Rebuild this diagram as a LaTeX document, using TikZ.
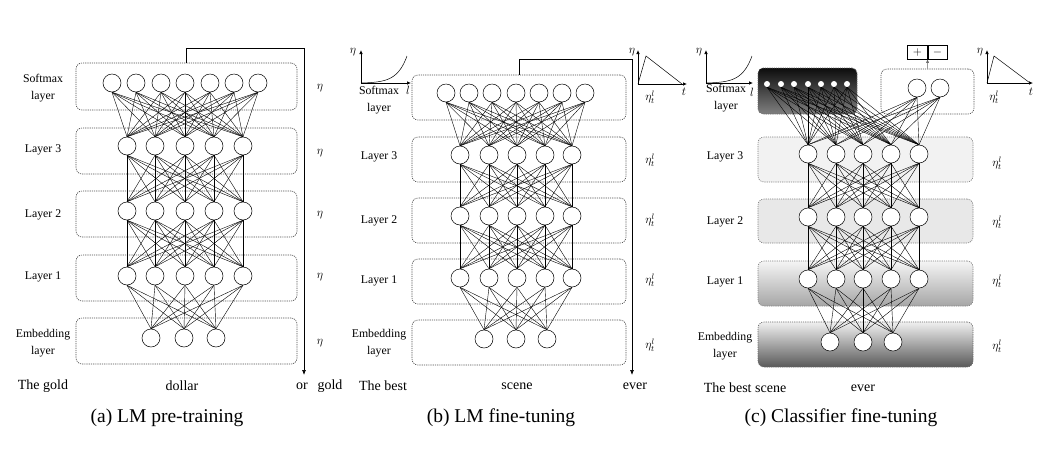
\documentclass[tikz,border=0pt]{standalone}
\usepackage{amsmath}
\usepackage{fontspec}
\setmainfont{Liberation Serif}
\usepackage{tikz}
\usetikzlibrary{arrows.meta, positioning, calc}
\tikzset{
  unit/.style={circle, draw, fill=white, minimum size=18pt, inner sep=0pt, line width=0.5pt},
  dot/.style={circle, fill=white, minimum size=6pt, inner sep=0pt},
  layerbox/.style={rectangle, rounded corners=6pt, draw=black!70, line width=0.6pt,
              dash pattern=on 1.2pt off 1pt, inner sep=0pt},
  link/.style={line width=0.4pt},
  flow/.style={-{Latex[length=5pt,width=4pt]}, line width=0.7pt},
  axisline/.style={-{Latex[length=4pt,width=3.5pt]}, line width=0.7pt},
  lbl/.style={font=\fontsize{11.8}{17}\selectfont, align=center, inner sep=0pt},
  word/.style={font=\fontsize{14}{16}\selectfont, inner sep=0pt},
  capt/.style={font=\fontsize{19.5}{22}\selectfont, inner sep=0pt},
  rate/.style={font=\fontsize{12}{14}\selectfont, inner sep=0pt},
  signbox/.style={rectangle, draw, line width=0.6pt, minimum width=19.5pt, minimum height=14pt,
              inner sep=0pt, font=\fontsize{13}{14}\selectfont},
}

\begin{document}
\begin{tikzpicture}[x=1pt, y=-1pt]
  \useasboundingbox (0,0) rectangle (1042,448);

  % ---------------- (a) LM pre-training ----------------
  \node[layerbox, minimum width=221pt, minimum height=47pt] (a-sbox) at (186.5,86.5) {};
  \node[layerbox, minimum width=221pt, minimum height=46pt] (a-box3) at (186.5,151) {};
  \node[layerbox, minimum width=221pt, minimum height=46pt] (a-box2) at (186.5,214) {};
  \node[layerbox, minimum width=221pt, minimum height=46pt] (a-box1) at (186.5,278) {};
  \node[layerbox, minimum width=221pt, minimum height=46pt] (a-box0) at (186.5,341) {};

  \foreach \i/\x in {1/112,2/136,3/161,4/185,5/210,6/234,7/258}
    \node[unit] (a-s\i) at (\x,83) {};
  \foreach \i/\x in {1/127,2/155,3/185,4/214,5/243} {
    \node[unit] (a-c\i) at (\x,146) {};
    \node[unit] (a-b\i) at (\x,211) {};
    \node[unit] (a-a\i) at (\x,276) {};
  }
  \foreach \i/\x in {1/151,2/184,3/216}
    \node[unit] (a-e\i) at (\x,338) {};

  \foreach \i in {1,...,7} \foreach \j in {1,...,5}
    \draw[link] (a-s\i.south) -- (a-c\j.north);
  \foreach \i in {1,...,5} \foreach \j in {1,...,5} {
    \draw[link] (a-c\i.south) -- (a-b\j.north);
    \draw[link] (a-b\i.south) -- (a-a\j.north);
  }
  \foreach \i in {1,...,5} \foreach \j in {1,2,3}
    \draw[link] (a-a\i.south) -- (a-e\j.north);

  \node[lbl] (a-ls) at (43,88) {Softmax\\layer};
  \node[lbl] (a-l3) at (43,150) {Layer 3};
  \node[lbl] (a-l2) at (43,215) {Layer 2};
  \node[lbl] (a-l1) at (43,277) {Layer 1};
  \node[lbl] (a-l0) at (43,343) {Embedding\\layer};

  \foreach \n/\y in {s/88,3/153,2/215,1/277,0/343}
    \node[rate] (a-r\n) at (320,\y) {$\eta$};

  \coordinate (a-turn) at (304,48);
  \coordinate (a-end) at (304,375);
  \draw[flow] (a-sbox.north) |- (a-turn) -- (a-end);

  \node[word] (a-w1) at (43,386) {The gold};
  \node[word] (a-w2) at (182,386) {dollar};
  \node[word] (a-w3) at (302,386) {or};
  \node[word] (a-w4) at (330,386) {gold};
  \node[capt] (a-cap) at (167,418) {(a) LM pre-training};

  % ---------------- (b) LM fine-tuning ----------------
  \node[layerbox, minimum width=214pt, minimum height=45pt] (b-sbox) at (519,97.5) {};
  \node[layerbox, minimum width=214pt, minimum height=45pt] (b-box3) at (519,159.5) {};
  \node[layerbox, minimum width=214pt, minimum height=45pt] (b-box2) at (519,220.5) {};
  \node[layerbox, minimum width=214pt, minimum height=45pt] (b-box1) at (519,281.5) {};
  \node[layerbox, minimum width=214pt, minimum height=45pt] (b-box0) at (519,342.5) {};

  \foreach \i/\x in {1/446,2/469,3/492,4/516,5/539,6/562,7/585}
    \node[unit] (b-s\i) at (\x,93) {};
  \foreach \i/\x in {1/460,2/489,3/517,4/545,5/572} {
    \node[unit] (b-c\i) at (\x,155) {};
    \node[unit] (b-b\i) at (\x,216) {};
    \node[unit] (b-a\i) at (\x,278) {};
  }
  \foreach \i/\x in {1/484,2/516,3/547}
    \node[unit] (b-e\i) at (\x,339) {};

  \foreach \i in {1,...,7} \foreach \j in {1,...,5}
    \draw[link] (b-s\i.south) -- (b-c\j.north);
  \foreach \i in {1,...,5} \foreach \j in {1,...,5} {
    \draw[link] (b-c\i.south) -- (b-b\j.north);
    \draw[link] (b-b\i.south) -- (b-a\j.north);
  }
  \foreach \i in {1,...,5} \foreach \j in {1,2,3}
    \draw[link] (b-a\i.south) -- (b-e\j.north);

  \node[lbl] (b-ls) at (379,100) {Softmax\\layer};
  \node[lbl] (b-l3) at (379,157) {Layer 3};
  \node[lbl] (b-l2) at (379,221) {Layer 2};
  \node[lbl] (b-l1) at (379,281) {Layer 1};
  \node[lbl] (b-l0) at (379,343) {Embedding\\layer};

  \foreach \n/\y in {s/97,3/160,2/220,1/280,0/345}
    \node[rate] (b-r\n) at (650,\y) {$\eta_t^l$};

  % discriminative rate curve
  \draw[axisline] (361,83) -- (361,50);
  \draw[axisline] (361,83) -- (411,83);
  \draw[line width=0.5pt] plot[domain=0:46, samples=40] ({361+\x},{83-0.274*(exp(\x/10)-1)});
  \node[rate] (b-eta1) at (353,52) {$\eta$};
  \node[rate] (b-lay1) at (408,90) {$l$};
  % slanted triangular rate
  \draw[axisline] (638,84) -- (638,50);
  \draw[axisline] (638,84) -- (687,84);
  \draw[line width=0.5pt] (638,84) -- (646,56) -- (682,84);
  \node[rate] (b-eta2) at (632,52) {$\eta$};
  \node[rate] (b-t2) at (684,92) {$t$};

  \coordinate (b-turn) at (632,59);
  \coordinate (b-end) at (632,375);
  \draw[flow] (b-sbox.north) |- (b-turn) -- (b-end);

  \node[word] (b-w1) at (383,386) {The best};
  \node[word] (b-w2) at (517,386) {scene};
  \node[word] (b-w3) at (635,386) {ever};
  \node[capt] (b-cap) at (501,418) {(b) LM fine-tuning};

  % ---------------- (c) Classifier fine-tuning ----------------
  \node[layerbox, rounded corners=5pt, draw=black!60, top color=black!95, bottom color=black!50,
        minimum width=99pt, minimum height=46pt] (c-sbox) at (807.5,91) {};
  \node[layerbox, minimum width=93pt, minimum height=45pt] (c-rbox) at (927.5,91.5) {};
  \node[layerbox, draw=black!50, fill=black!5, minimum width=215pt, minimum height=45pt] (c-box3) at (865.5,159.5) {};
  \node[layerbox, draw=black!50, fill=black!9, minimum width=215pt, minimum height=44pt] (c-box2) at (865.5,221) {};
  \node[layerbox, draw=black!50, top color=black!4, bottom color=black!35,
        minimum width=215pt, minimum height=45pt] (c-box1) at (865.5,283.5) {};
  \node[layerbox, draw=black!60, top color=black!6, bottom color=black!65,
        minimum width=215pt, minimum height=45pt] (c-box0) at (865.5,344.5) {};

  \foreach \i/\x in {1/767,2/781,3/794,4/808,5/821,6/834,7/847}
    \node[dot] (c-d\i) at (\x,84) {};
  \foreach \i/\x in {1/917,2/940}
    \node[unit] (c-o\i) at (\x,88) {};
  \foreach \i/\x in {1/808,2/836,3/863,4/891,5/919} {
    \node[unit] (c-c\i) at (\x,154) {};
    \node[unit] (c-b\i) at (\x,217) {};
    \node[unit] (c-a\i) at (\x,279) {};
  }
  \foreach \i/\x in {1/830,2/863,3/893}
    \node[unit] (c-e\i) at (\x,342) {};

  \foreach \i in {1,...,7} \foreach \j in {1,...,5}
    \draw[link] (c-d\i.south) -- (c-c\j.north);
  \foreach \i in {1,2} \foreach \j in {1,...,5}
    \draw[link] (c-o\i.south) -- (c-c\j.north);
  \foreach \i in {1,...,5} \foreach \j in {1,...,5} {
    \draw[link] (c-c\i.south) -- (c-b\j.north);
    \draw[link] (c-b\i.south) -- (c-a\j.north);
  }
  \foreach \i in {1,...,5} \foreach \j in {1,2,3}
    \draw[link] (c-a\i.south) -- (c-e\j.north);

  \node[signbox] (c-plus) at (917.5,52) {$+$};
  \node[signbox, right=0pt of c-plus] (c-minus) {$-$};
  \draw[-{Latex[length=3.5pt,width=3pt]}, line width=0.5pt, black!60] (c-rbox.north) -- (c-plus.south east);

  \node[lbl] (c-ls) at (726,98) {Softmax\\layer};
  \node[lbl] (c-l3) at (725,157) {Layer 3};
  \node[lbl] (c-l2) at (725,222) {Layer 2};
  \node[lbl] (c-l1) at (725,282) {Layer 1};
  \node[lbl] (c-l0) at (725,346) {Embedding\\layer};

  \foreach \n/\y in {3/163,2/222,1/281,0/346}
    \node[rate] (c-r\n) at (997,\y) {$\eta_t^l$};
  \node[rate] (c-rs) at (994,97) {$\eta_t^l$};

  \draw[axisline] (706,83) -- (706,50);
  \draw[axisline] (706,83) -- (753,83);
  \draw[line width=0.5pt] plot[domain=0:46, samples=40] ({706+\x},{83-0.274*(exp(\x/10)-1)});
  \node[rate] (c-eta1) at (699,52) {$\eta$};
  \node[rate] (c-lay1) at (752,92) {$l$};
  \draw[axisline] (987,83) -- (987,50);
  \draw[axisline] (987,83) -- (1033,83);
  \draw[line width=0.5pt] (987,83) -- (994,56) -- (1030,83);
  \node[rate] (c-eta2) at (980,52) {$\eta$};
  \node[rate] (c-t2) at (1031,92) {$t$};

  \node[word] (c-w1) at (745,388) {The best scene};
  \node[word] (c-w2) at (863,388) {ever};
  \node[capt] (c-cap) at (841,418) {(c) Classifier fine-tuning};
\end{tikzpicture}
\end{document}
